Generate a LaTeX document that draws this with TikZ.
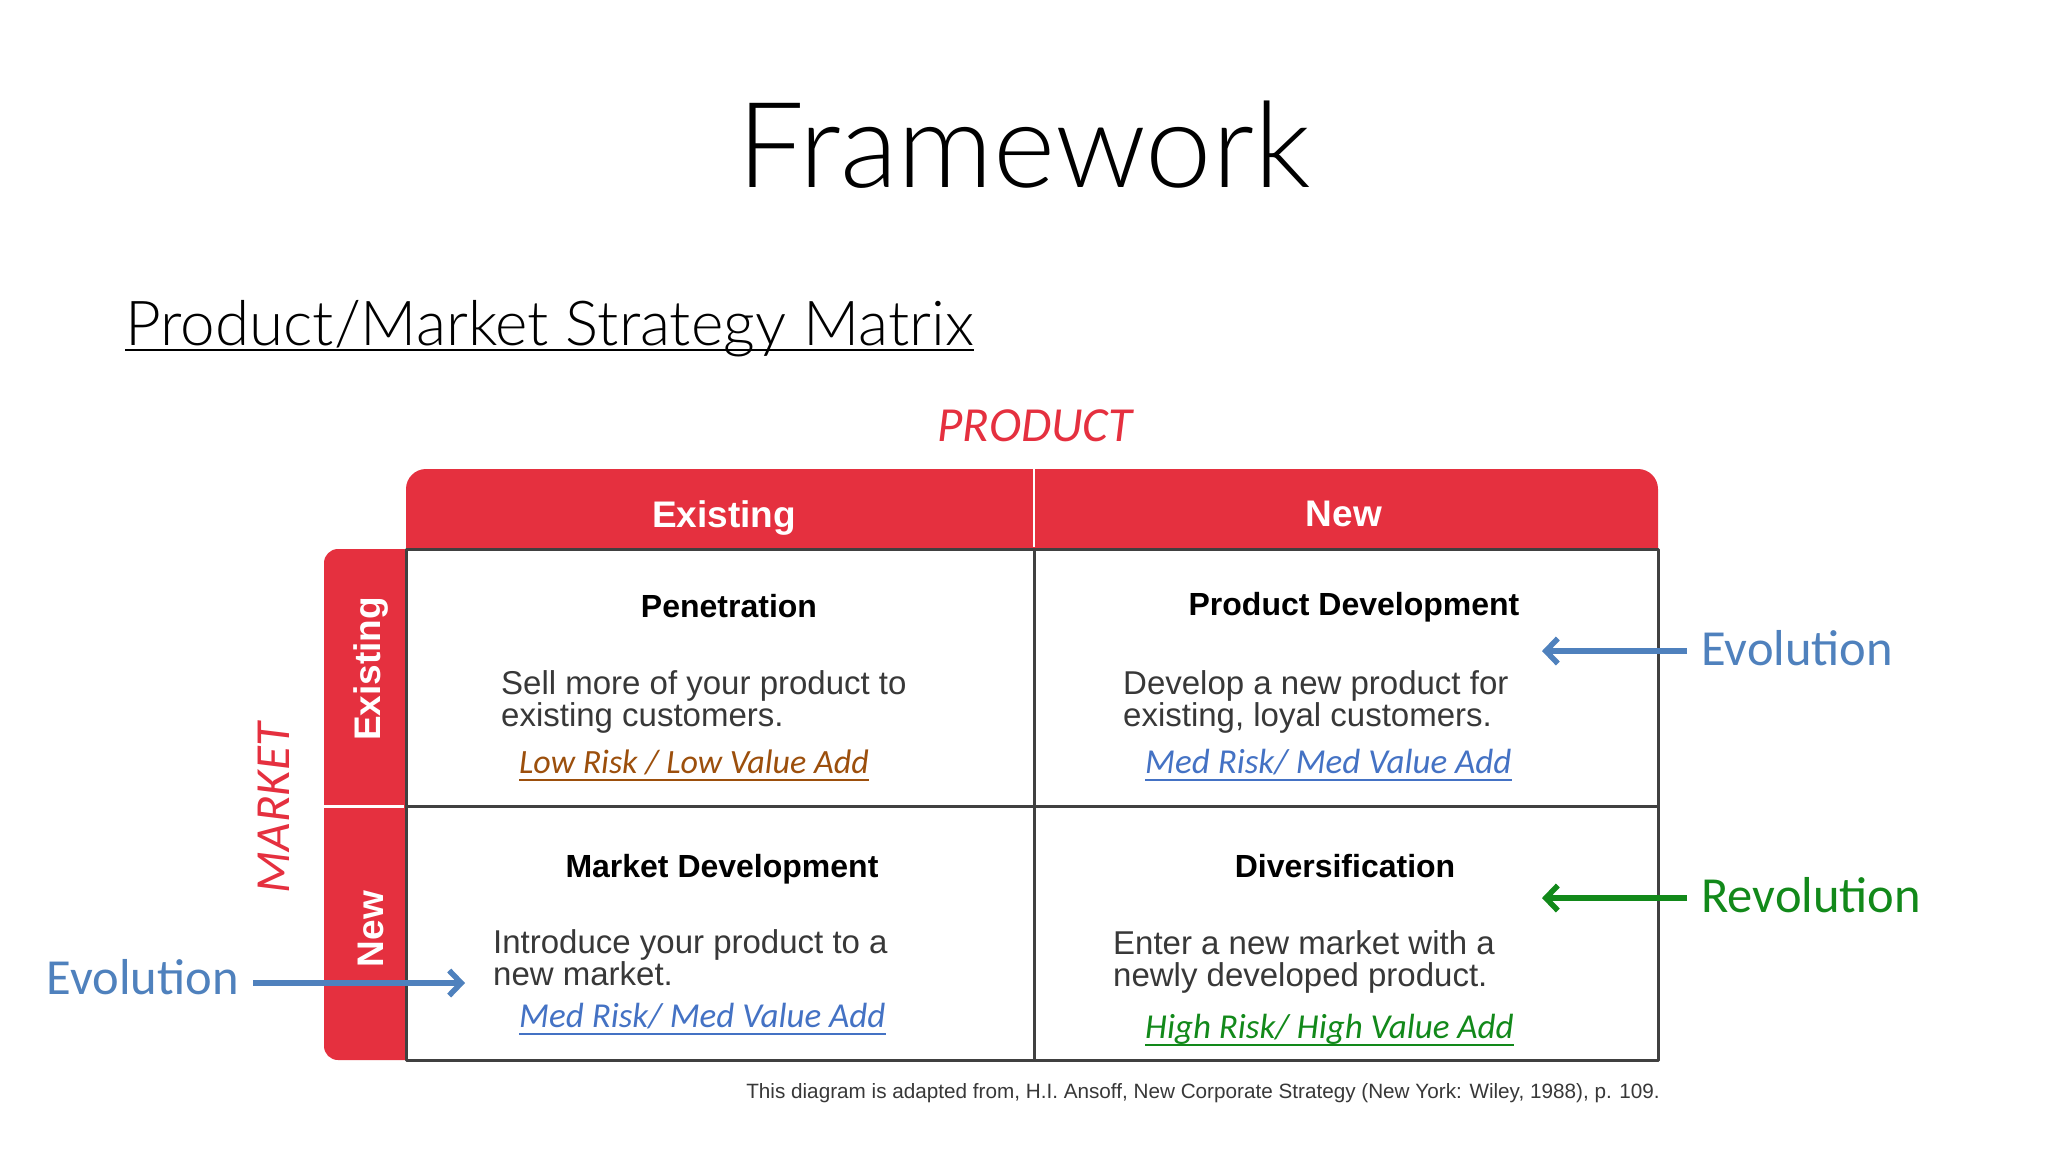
\documentclass[tikz,border=0pt]{standalone}
\usepackage{fontspec}
\usepackage{xcolor}
\usepackage{tikz}
\usetikzlibrary{positioning,calc,arrows.meta}
\setmainfont{Liberation Sans}
\newfontfamily\slidefont{Lato}[UprightFont=* Light]
\newfontfamily\notefont{Carlito}
\definecolor{ansred}{HTML}{E5303F}
\definecolor{ansgrid}{HTML}{404040}
\definecolor{ansbody}{HTML}{383838}
\definecolor{evoblue}{HTML}{4F81BD}
\definecolor{riskblue}{HTML}{4472C4}
\definecolor{revgreen}{HTML}{12891A}
\definecolor{riskbrown}{HTML}{9C4F0C}
\tikzset{
  ans head/.style={text=white, font=\fontsize{37}{40}\selectfont\bfseries, inner sep=0pt},
  ans title/.style={anchor=base, font=\fontsize{32}{36}\selectfont\bfseries, inner sep=0pt},
  ans body/.style={anchor=base west, align=left, text=ansbody, font=\fontsize{33}{32}\selectfont, inner sep=0pt},
  ans risk/.style={anchor=base west, font=\notefont\itshape\fontsize{35}{38}\selectfont, inner sep=0pt},
  ans axis/.style={text=ansred, font=\notefont\itshape\fontsize{49}{52}\selectfont, inner sep=0pt},
  ans note/.style={font=\notefont\fontsize{50.5}{54}\selectfont, inner sep=0pt},
  ans arrow/.style={line width=5.5pt, shorten <=14pt, -{Straight Barb[length=12pt, width=25pt]}}
}

\begin{document}
\begin{tikzpicture}[x=1pt, y=-1pt, line join=round]
    \fill [white] (0,0) rectangle (2048,1152);
    \useasboundingbox (0,0) rectangle (2048,1152);

    % Slide titles
    \node [anchor=base, inner sep=0pt, font=\slidefont\fontsize{119}{124}\selectfont] (Title) at (1024,187) {Framework};
    \node [anchor=base west, inner sep=0pt, font=\slidefont\fontsize{62}{68}\selectfont] (Sub) at (125,345) {Product/Market Strategy Matrix};
    \draw [line width=2.5pt] ([yshift=-5pt]Sub.base west) -- ([yshift=-5pt]Sub.base east);

    % Red bars and grid
    \fill [ansred, rounded corners=20pt] (406,469) rectangle (1658,580);
    \fill [ansred, rounded corners=14pt] (324,549) rectangle (440,1060);
    \filldraw [fill=white, draw=ansgrid, line width=3pt] (406,549) rectangle (1658,1060);
    \draw [ansgrid, line width=3pt] (1034,549) -- (1034,1060) (406,806) -- (1658,806);
    \draw [white, line width=2pt] (1034,469) -- (1034,547);
    \draw [white, line width=3pt] (324,806) -- (404,806);

    % Axis labels
    \node [ans axis, anchor=base] (ProdAxis) at (1035,441) {PRODUCT};
    \node [ans axis, rotate=90] (MktAxis) at (274,808) {MARKET};
    \node [ans head, anchor=base] (HeadOld) at (724,527) {Existing};
    \node [ans head, anchor=base] (HeadNew) at (1344,526) {New};
    \node [ans head, rotate=90] (SideOld) at (371,669) {Existing};
    \node [ans head, rotate=90] (SideNew) at (371,929) {New};

    % Quadrants
    \node [ans title] (PenTitle) at (729,617) {Penetration};
    \node [ans body] (PenBody) at (501,726) {Sell more of your product to\\existing customers.};
    \node [ans risk, text=riskbrown, font=\notefont\itshape\fontsize{34}{38}\selectfont] (PenRisk) at (519,773) {Low Risk / Low Value Add};

    \node [ans title] (PdTitle) at (1354,615) {Product Development};
    \node [ans body] (PdBody) at (1123,726) {Develop a new product for\\existing, loyal customers.};
    \node [ans risk, text=riskblue] (PdRisk) at (1145,773) {Med Risk/ Med Value Add};

    \node [ans title] (MdTitle) at (722,877) {Market Development};
    \node [ans body] (MdBody) at (493,985) {Introduce your product to a\\new market.};
    \node [ans risk, text=riskblue] (MdRisk) at (519,1027) {Med Risk/ Med Value Add};

    \node [ans title] (DivTitle) at (1345,877) {Diversification};
    \node [ans body] (DivBody) at (1113,986) {Enter a new market with a\\newly developed product.};
    \node [ans risk, text=revgreen] (DivRisk) at (1145,1038) {High Risk/ High Value Add};

    \foreach \n/\c in {PenRisk/riskbrown, PdRisk/riskblue, MdRisk/riskblue, DivRisk/revgreen}
        \draw [\c, line width=2.5pt] ([yshift=-7pt]\n.base west) -- ([yshift=-7pt]\n.base east);

    % Evolution / Revolution arrows
    \coordinate (EvoTopTip) at (1542,651);
    \node [ans note, text=evoblue, right=159pt of EvoTopTip, yshift=3pt] (EvoTop) {Evolution};
    \draw [ans arrow, evoblue] (EvoTop.west |- EvoTopTip) -- (EvoTopTip);

    \coordinate (RevTip) at (1542,898);
    \node [ans note, text=revgreen, right=159pt of RevTip, yshift=3pt] (RevNote) {Revolution};
    \draw [ans arrow, revgreen] (RevNote.west |- RevTip) -- (RevTip);

    \coordinate (EvoLeftTip) at (465,983);
    \node [ans note, text=evoblue, left=226pt of EvoLeftTip, yshift=6pt] (EvoLeft) {Evolution};
    \draw [ans arrow, evoblue] (EvoLeft.east |- EvoLeftTip) -- (EvoLeftTip);

    % Source
    \node [anchor=base east, inner sep=0pt, text=ansbody, font=\fontsize{20.7}{22}\selectfont] (Source) at (1660,1098) {This diagram is adapted from, H.I. Ansoff, New Corporate Strategy (New York: Wiley, 1988), p. 109.};
\end{tikzpicture}
\end{document}
